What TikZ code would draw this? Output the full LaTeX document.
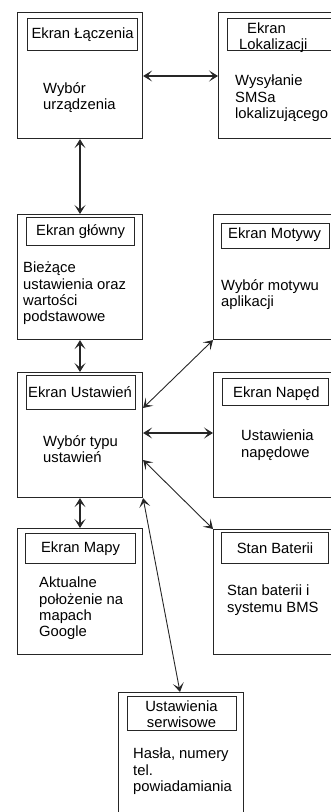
\documentclass[tikz,border=0pt]{standalone}
\usepackage{fontspec}
\setmainfont{Liberation Sans}
\usetikzlibrary{arrows.meta}
\begin{document}
\begin{tikzpicture}[x=1pt,y=-1pt,
  outer/.style={draw=black!85,line width=1.1pt,rectangle,inner sep=0pt},
  txt/.style={font=\fontsize{14.8}{16.3}\selectfont,inner sep=0pt,align=left,anchor=north west},
  ctxt/.style={font=\fontsize{14.8}{16.3}\selectfont,inner sep=0pt,align=center},
  tip/.style={Stealth[length=9pt,width=11pt,inset=4.5pt]},
  link/.style={draw=black!85,line width=1.3pt,{Stealth[length=9pt,width=11pt,inset=4.5pt]}-{Stealth[length=9pt,width=11pt,inset=4.5pt]}},
  dlink/.style={draw=black!85,line width=0.9pt,{Stealth[length=9pt,width=11pt,inset=4.5pt]}-{Stealth[length=9pt,width=11pt,inset=4.5pt]}}
]
\useasboundingbox (0,0) rectangle (331,812);
\clip (0,0) rectangle (331,812);
% outer boxes
\newcommand{\obox}[5]{\node[outer,anchor=north west,minimum width=#4-#2,minimum height=#5-#3] (#1) at (#2,#3) {};}
\obox{lacz}{17}{12}{142}{138}
\obox{lok}{218}{12}{360}{138}
\obox{glowny}{17}{214}{142}{339}
\obox{motywy}{213}{214}{360}{339}
\obox{ustaw}{17}{372}{142}{497}
\obox{naped}{213}{372}{360}{497}
\obox{mapy}{17}{528}{142}{654}
\obox{bater}{213}{529}{360}{654}
\obox{serw}{118}{692}{243}{840}
% title boxes
\obox{laczT}{27}{18}{137}{50}
\obox{lokT}{227}{18}{360}{50}
\obox{glownyT}{26}{217}{134}{245}
\obox{motywyT}{221}{223}{329}{248}
\obox{ustawT}{26}{375}{135}{409}
\obox{napedT}{222}{378}{328}{405}
\obox{mapyT}{25}{533}{135}{563}
\obox{baterT}{221}{532}{328}{563}
\obox{serwT}{127}{696}{236}{730}
% titles
\node[ctxt] (t1) at (laczT.center) {Ekran Łączenia};
\node[txt,font=\fontsize{14.8}{15.6}\selectfont] (t2) at (239,23) {\hspace*{8pt}Ekran\\Lokalizacji};
\node[ctxt] (t3) at (glownyT.center) {Ekran główny};
\node[ctxt,anchor=base west] (t4) at (228,238.6) {Ekran Motywy};
\node[ctxt,anchor=base west] (t5) at (28,397.5) {Ekran Ustawień};
\node[ctxt,anchor=base west] (t6) at (233,397.6) {Ekran Napęd};
\node[ctxt] (t7) at (mapyT.center) {Ekran Mapy};
\node[ctxt] (t8) at (baterT.center) {Stan Baterii};
\node[ctxt,anchor=north,font=\fontsize{14.8}{15.8}\selectfont] (t9) at (181.5,701) {Ustawienia\\serwisowe};
% body texts
\node[txt] (b1) at (43,82) {Wybór\\urządzenia};
\node[txt] (b2) at (235,75) {Wysyłanie\\SMSa\\lokalizującego};
\node[txt] (b3) at (23,262) {Bieżące\\ustawienia oraz\\wartości\\podstawowe};
\node[txt] (b4) at (221,279) {Wybór motywu\\aplikacji};
\node[txt] (b5) at (43,435) {Wybór typu\\ustawień};
\node[txt] (b6) at (241,430) {Ustawienia\\napędowe};
\node[txt] (b7) at (39,577) {Aktualne\\położenie na\\mapach\\Google};
\node[txt] (b8) at (227,585) {Stan baterii i\\systemu BMS};
\node[txt] (b9) at (133,748) {Hasła, numery\\tel.\\powiadamiania};
% connectors
\draw[link] (lacz.east |- 0,76) -- (lok.west |- 0,76);
\draw[link] (lacz.south -| 80,0) -- (glowny.north -| 80,0);
\draw[link] (glowny.south -| 80,0) -- (ustaw.north -| 80,0);
\draw[dlink] (ustaw.east |- 0,408) -- (motywy.south west);
\draw[link] (ustaw.east |- 0,433) -- (naped.west |- 0,433);
\draw[dlink] (ustaw.east |- 0,460) -- (bater.north west);
\draw[link] (ustaw.south -| 80,0) -- (mapy.north -| 80,0);
\draw[dlink] (ustaw.south east) -- (serw.north -| 180,0);
\end{tikzpicture}
\end{document}
